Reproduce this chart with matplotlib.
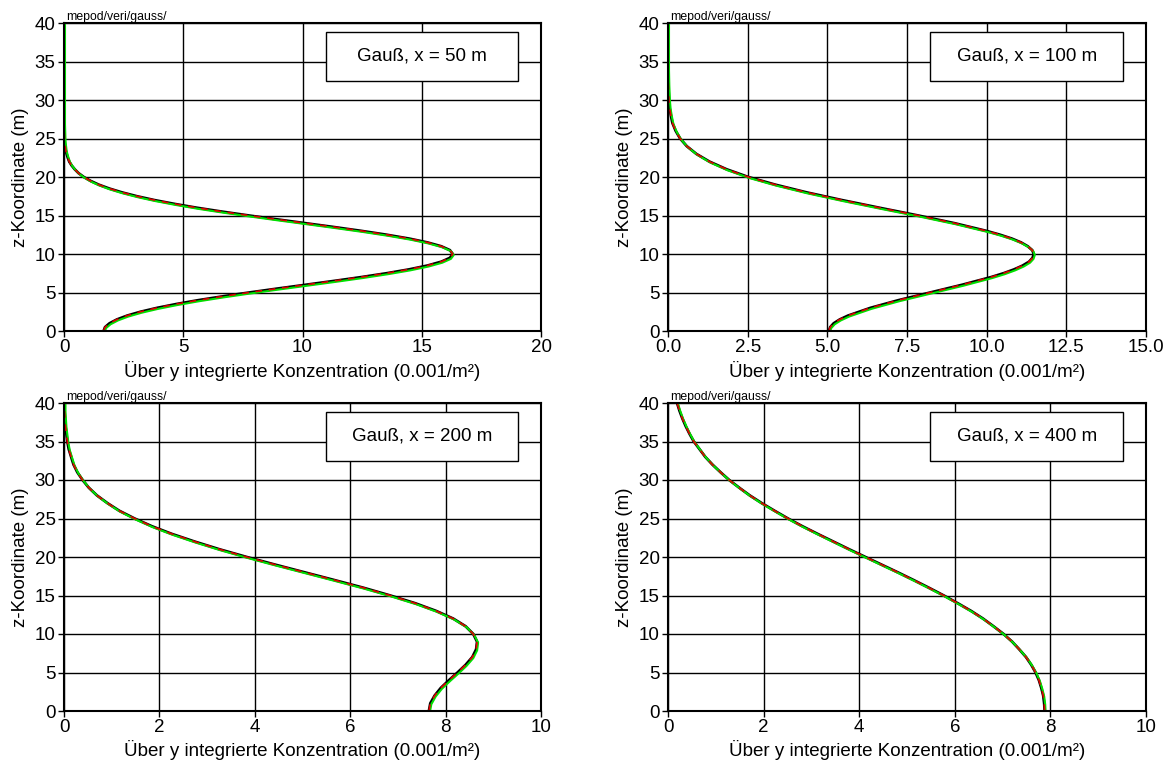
import numpy as np
import matplotlib
matplotlib.use("Agg")
import matplotlib.pyplot as plt
from matplotlib.patches import Rectangle
from matplotlib.ticker import FormatStrFormatter, MultipleLocator
from matplotlib.transforms import offset_copy

plt.rcParams['font.family'] = ['Liberation Sans', 'DejaVu Sans']

# Vertical profiles of the y-integrated concentration (0.001/m^2) versus height z (m)
z_50 = [0, 0.5, 1, 1.5, 2, 2.5, 3, 3.5, 4, 4.5, 5, 5.5, 6, 6.5, 7, 7.5, 8, 8.5, 9, 9.5,
        10, 10.5, 11, 11.5, 12, 12.5, 13, 13.5, 14, 14.5, 15, 15.5, 16, 16.5, 17, 17.5,
        18, 18.5, 19, 19.5, 20, 20.5, 21, 21.5, 22, 22.5, 23, 23.5, 24, 24.5, 25,
        26, 27, 30, 35, 40]
conc_50 = [1.66, 1.72, 1.91, 2.22, 2.65, 3.21, 3.90, 4.71, 5.63, 6.66, 7.77, 8.93, 10.13,
           11.32, 12.47, 13.53, 14.47, 15.24, 15.82, 16.18,
           16.30, 16.18, 15.82, 15.24, 14.47, 13.53, 12.47, 11.32, 10.12, 8.92, 7.75, 6.63,
           5.58, 4.64, 3.79, 3.06, 2.43, 1.90, 1.46, 1.11, 0.83, 0.61, 0.45, 0.32, 0.22,
           0.16, 0.11, 0.07, 0.05, 0.03, 0.02,
           0.01, 0.0, 0.0, 0.0, 0.0]

z_100 = [0, 0.5, 1, 1.5, 2, 3, 4, 5, 6, 7, 7.5, 8, 8.5, 9, 9.5, 10, 10.5, 11, 11.5, 12,
         12.5, 13, 14, 15, 16, 17, 18, 19, 20, 21, 22, 23, 24, 25, 26, 27, 28, 29, 30,
         31, 32, 34, 40]
conc_100 = [5.05, 5.09, 5.20, 5.39, 5.65, 6.35, 7.23, 8.23, 9.23, 10.14, 10.53, 10.86,
            11.13, 11.33, 11.44, 11.48, 11.43, 11.29, 11.08, 10.79, 10.42, 9.99, 8.99,
            7.85, 6.64, 5.46, 4.35, 3.37, 2.52, 1.84, 1.30, 0.89, 0.59, 0.38, 0.24, 0.14,
            0.09, 0.05, 0.03, 0.02, 0.01, 0.0, 0.0]

z_200 = list(range(0, 41))
conc_200 = [7.65, 7.68, 7.77, 7.90, 8.07, 8.25, 8.42, 8.56, 8.64, 8.66, 8.58, 8.42, 8.16,
            7.80, 7.36, 6.84, 6.28, 5.67, 5.05, 4.43, 3.83, 3.26, 2.74, 2.26, 1.84, 1.48,
            1.16, 0.91, 0.69, 0.52, 0.39, 0.28, 0.20, 0.15, 0.10, 0.07, 0.05, 0.03, 0.02,
            0.01, 0.01]

z_400 = list(range(0, 41))
conc_400 = [7.88, 7.87, 7.85, 7.81, 7.76, 7.69, 7.60, 7.49, 7.35, 7.20, 7.02, 6.81, 6.59,
            6.34, 6.06, 5.77, 5.46, 5.14, 4.81, 4.47, 4.13, 3.79, 3.46, 3.13, 2.81, 2.51,
            2.23, 1.96, 1.71, 1.49, 1.28, 1.10, 0.93, 0.78, 0.66, 0.54, 0.45, 0.37, 0.30,
            0.24, 0.19]

titles = ["Gauß, x = 50 m", "Gauß, x = 100 m", "Gauß, x = 200 m", "Gauß, x = 400 m"]
x_max = [20, 15, 10, 10]
x_step = [5, 2.5, 2, 2]
profiles = [(z_50, conc_50), (z_100, conc_100), (z_200, conc_200), (z_400, conc_400)]

W, H = 1172, 760
FS = 13.5
fig = plt.figure(figsize=(W / 100, H / 100), dpi=100)

ax_rects = [
    (64, 23, 477, 308),
    (668, 23, 478, 308),
    (64, 403, 477, 308),
    (668, 403, 478, 308),
]

for i, (px, py, pw, ph) in enumerate(ax_rects):
    ax = fig.add_axes([px / W, 1 - (py + ph) / H, pw / W, ph / H])
    z, c = profiles[i]

    ax.set_xlim(0, x_max[i])
    ax.set_ylim(0, 40)
    ax.xaxis.set_major_locator(MultipleLocator(x_step[i]))
    ax.yaxis.set_major_locator(MultipleLocator(5))
    if i == 1:
        ax.xaxis.set_major_formatter(FormatStrFormatter('%.1f'))

    ax.grid(True, color='black', linewidth=1.0, zorder=1)
    ax.set_axisbelow(True)

    shifted = offset_copy(ax.transData, fig=fig, x=1, y=-1, units='dots')
    ax.plot(c, z, color='black', linewidth=2.0, zorder=3, solid_capstyle='butt')
    ax.plot(c, z, color='#00e000', linewidth=1.5, zorder=4, transform=shifted)
    ax.plot(c, z, color='#dd0000', linewidth=1.2, zorder=5, dashes=(4, 4))

    for s in ax.spines.values():
        s.set_linewidth(1.5)
        s.set_zorder(6)

    ax.tick_params(direction='out', length=4, width=1, labelsize=FS, pad=2,
                   colors='black')
    ax.set_ylabel("z-Koordinate (m)", fontsize=FS, labelpad=4)
    ax.set_xlabel("Über y integrierte Konzentration (0.001/m²)", fontsize=FS,
                  labelpad=3)

    ax.text(0.004, 1.0, "mepod/veri/gauss/", transform=ax.transAxes, fontsize=8.8,
            ha='left', va='bottom')

    box = Rectangle((0.549, 0.812), 0.403, 0.159, transform=ax.transAxes,
                    facecolor='white', edgecolor='black', linewidth=1.0, zorder=7)
    ax.add_patch(box)
    ax.text(0.7505, 0.8915, titles[i], transform=ax.transAxes, fontsize=FS,
            ha='center', va='center', zorder=8)

fig.savefig("out.png", dpi=100)
